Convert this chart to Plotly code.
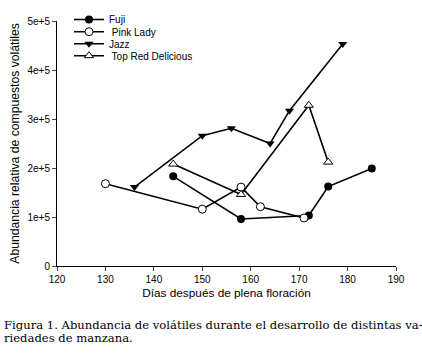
import plotly.graph_objects as go

fuji_x = [144, 158, 172, 176, 185]
fuji_y = [1.83e5, 0.96e5, 1.03e5, 1.62e5, 1.99e5]
pink_x = [130, 150, 158, 162, 171]
pink_y = [1.68e5, 1.16e5, 1.61e5, 1.21e5, 0.98e5]
jazz_x = [136, 150, 156, 164, 168, 179]
jazz_y = [1.61e5, 2.66e5, 2.81e5, 2.50e5, 3.17e5, 4.53e5]
trd_x = [144, 158, 172, 176]
trd_y = [2.08e5, 1.46e5, 3.28e5, 2.12e5]

x_ticks = [120, 130, 140, 150, 160, 170, 180, 190]
y_ticks = [0, 1e5, 2e5, 3e5, 4e5, 5e5]
y_tick_labels = ["0", "1e+5", "2e+5", "3e+5", "4e+5", "5e+5"]

W, H = 422, 355
# plot area edges in pixels
X0, X1, Y0, Y1 = 57, 396, 21, 266

def fx(pix):
    return pix / W

def fy(pix):
    return 1 - pix / H

fig = go.Figure()
line = dict(color="black", width=1.6)
fig.add_trace(go.Scatter(x=fuji_x, y=fuji_y, name="Fuji", mode="lines+markers", legend="legend",
                         line=line, marker=dict(symbol="circle", size=8, color="black")))
fig.add_trace(go.Scatter(x=pink_x, y=pink_y, name=" Pink Lady", mode="lines+markers", legend="legend2",
                         line=line, marker=dict(symbol="circle", size=8, color="white",
                                                line=dict(color="black", width=1))))
fig.add_trace(go.Scatter(x=jazz_x, y=jazz_y, name="Jazz", mode="lines+markers", legend="legend3",
                         line=line, marker=dict(symbol="triangle-down", size=8, color="black")))
fig.add_trace(go.Scatter(x=trd_x, y=trd_y, name=" Top Red Delicious", mode="lines+markers", legend="legend4",
                         line=line, marker=dict(symbol="triangle-up", size=8, color="white",
                                                line=dict(color="black", width=1))))

def leg(ypix):
    return dict(x=fx(69), y=fy(ypix), xanchor="left", yanchor="middle",
                bgcolor="rgba(0,0,0,0)", font=dict(size=10), itemwidth=30)

fig.update_layout(
    width=W, height=H,
    margin=dict(l=0, r=0, t=0, b=0),
    paper_bgcolor="white", plot_bgcolor="white",
    font=dict(family="Liberation Sans, Arial", size=10, color="black"),
    legend=leg(19.5), legend2=leg(31.7), legend3=leg(43.7), legend4=leg(55.7),
    xaxis=dict(domain=[fx(X0), fx(X1)], range=[120, 190], tickvals=x_ticks, ticks="outside", ticklen=4,
               showline=True, linecolor="black", linewidth=1, showgrid=False, zeroline=False,
               automargin=False,
               title=dict(text="Días después de plena floración", font=dict(size=11.8), standoff=4)),
    yaxis=dict(domain=[fy(Y1), fy(Y0)], range=[0, 5e5], tickvals=y_ticks, ticktext=y_tick_labels,
               ticks="outside", ticklen=4, showline=True, linecolor="black", linewidth=1,
               showgrid=False, zeroline=False, automargin=False,
               title=dict(text="Abundancia relativa de compuestos volátiles", font=dict(size=12.2), standoff=5)),
    showlegend=True,
)

fig.add_annotation(
    xref="paper", yref="paper", x=fx(2), y=fy(325), xanchor="left", yanchor="middle",
    text="Figura 1. Abundancia de volátiles durante el desarrollo de distintas va-",
    showarrow=False, font=dict(family="DejaVu Serif", size=11.6, color="black"))
fig.add_annotation(
    xref="paper", yref="paper", x=fx(2), y=fy(338), xanchor="left", yanchor="middle",
    text="riedades de manzana.",
    showarrow=False, font=dict(family="DejaVu Serif", size=11.6, color="black"))

fig.write_html("out.html", config={"displayModeBar": False},
               post_script="document.body.style.margin='0';")
